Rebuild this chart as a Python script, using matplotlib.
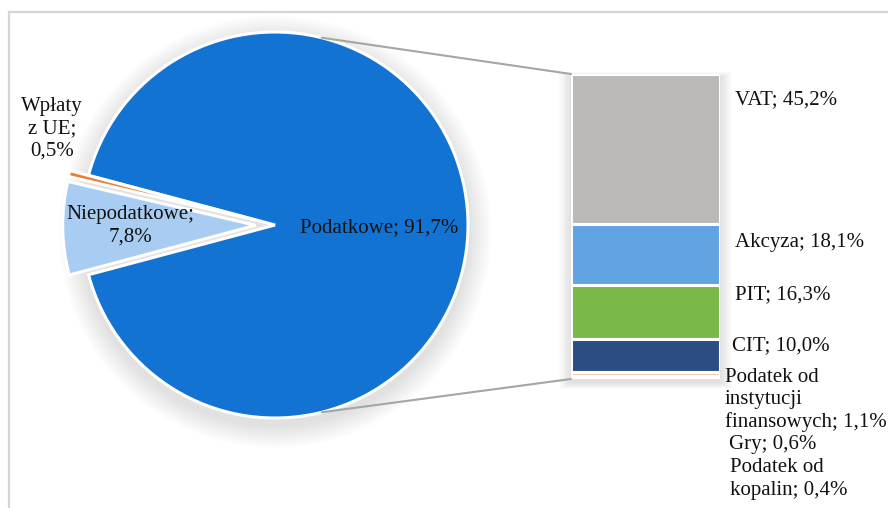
import numpy as np
import matplotlib
matplotlib.use("Agg")
import matplotlib.pyplot as plt
from matplotlib.patches import Rectangle, ConnectionPatch, Circle

# ---- data ----
pie_labels = ["Podatkowe", "Wpłaty\nz UE", "Niepodatkowe"]
pie_values = [91.7, 0.5, 7.8]
pie_colors = ["#1273D3", "#ED7D31", "#A9CDF2"]

bar_labels = ["VAT", "Akcyza", "PIT", "CIT",
              "Podatek od\ninstytucji\nfinansowych", "Gry", "Podatek od\nkopalin"]
bar_values = [45.2, 18.1, 16.3, 10.0, 1.1, 0.6, 0.4]
bar_colors = ["#BCB8B8", "#62A3E2", "#7AB84A", "#2C4D83", "#F8CBAD", "#FBE2D5", "#FFF2CC"]

def fmt(v):
    return f"{v:.1f}".replace(".", ",") + "%"

W, H = 888, 508
fig = plt.figure(figsize=(W / 100, H / 100), dpi=100)
fig.patch.set_facecolor("white")
plt.rcParams["font.family"] = ["Liberation Serif", "DejaVu Serif"]
FS = 15
LS = 1.22
TXT = "#111111"

# outer frame (cropped chart area border)
frame = Rectangle((9 / W, -0.05), 1.1, (H - 12) / H + 0.05, transform=fig.transFigure,
                  fill=False, edgecolor="#D6D6D6", linewidth=1.6, zorder=0)
fig.add_artist(frame)

# ---- pie ----
cx, cy, R = 275, H - 225, 193
lim = 1.2
half = R * lim
ax_pie = fig.add_axes([(cx - half) / W, (cy - half) / H, 2 * half / W, 2 * half / H])
ax_pie.patch.set_alpha(0)
# soft shadow
for k in range(10):
    ax_pie.add_patch(Circle((0.0, -0.035), 1.0 + 0.012 * (k + 1), color="#000000",
                            alpha=0.012, linewidth=0, zorder=0))
start = -pie_values[0] / sum(pie_values) * 360 / 2
wedges, _ = ax_pie.pie(pie_values, colors=pie_colors, startangle=start, counterclock=True,
                       explode=[0, 0.1, 0.1],
                       wedgeprops=dict(edgecolor="white", linewidth=2.2, zorder=2))
ax_pie.set_xlim(-lim, lim)
ax_pie.set_ylim(-lim, lim)
ax_pie.set_aspect("equal")
ax_pie.axis("off")

# pie labels (layout positions in pie units)
pie_label_pos = [(0.54, -0.015), (-1.155, 0.50), (-0.75, -0.005)]
pie_texts = [f"{pie_labels[0]}; {fmt(pie_values[0])}",
             f"{pie_labels[1]};\n{fmt(pie_values[1])}",
             f"{pie_labels[2]};\n{fmt(pie_values[2])}"]
for t, (px, py) in zip(pie_texts, pie_label_pos):
    ax_pie.text(px, py, t, ha="center", va="center", fontsize=FS, color=TXT,
                linespacing=LS, zorder=5)

# ---- bar ----
bx0, bx1 = 571, 720
by_top, by_bot = 74, 379
ax_bar = fig.add_axes([bx0 / W, (H - by_bot) / H, (bx1 - bx0) / W, (by_bot - by_top) / H])
ax_bar.patch.set_alpha(0)
total = sum(bar_values)
# soft shadow behind bar
for k in range(10):
    d = 0.004 * (k + 1)
    ax_bar.add_patch(Rectangle((-0.5 - d * 2, -total * 0.012 - d * total * 0.5), 1 + d * 4,
                               total * (1 + d), color="#000000", alpha=0.012,
                               linewidth=0, zorder=0, clip_on=False))
bottoms = total - np.cumsum(bar_values)
ax_bar.bar(np.zeros(len(bar_values)), bar_values, bottom=bottoms, width=1.0,
           color=bar_colors, edgecolor="white", linewidth=2.2, zorder=2)
ax_bar.set_xlim(-0.5, 0.5)
ax_bar.set_ylim(0, total)
ax_bar.axis("off")

# bar labels (layout: left x and centre y in pixels from top)
bar_label_xy = [(735, 100), (735, 242), (735, 295), (732, 346),
                (725, 400), (729, 445), (730, 479)]
for lab, v, (lx, ly) in zip(bar_labels, bar_values, bar_label_xy):
    fig.text(lx / W, 1 - ly / H, f"{lab}; {fmt(v)}", ha="left", va="center",
             fontsize=FS, color=TXT, linespacing=LS)

# connector lines
ang = np.deg2rad(76)
for sgn, ybar in [(1, total), (-1, 0)]:
    con = ConnectionPatch(xyA=(np.cos(ang), sgn * np.sin(ang)), coordsA=ax_pie.transData,
                          xyB=(-0.5, ybar), coordsB=ax_bar.transData,
                          color="#A5A5A5", linewidth=1.5, zorder=5)
    fig.add_artist(con)

fig.savefig("out.png", dpi=100, facecolor="white")
